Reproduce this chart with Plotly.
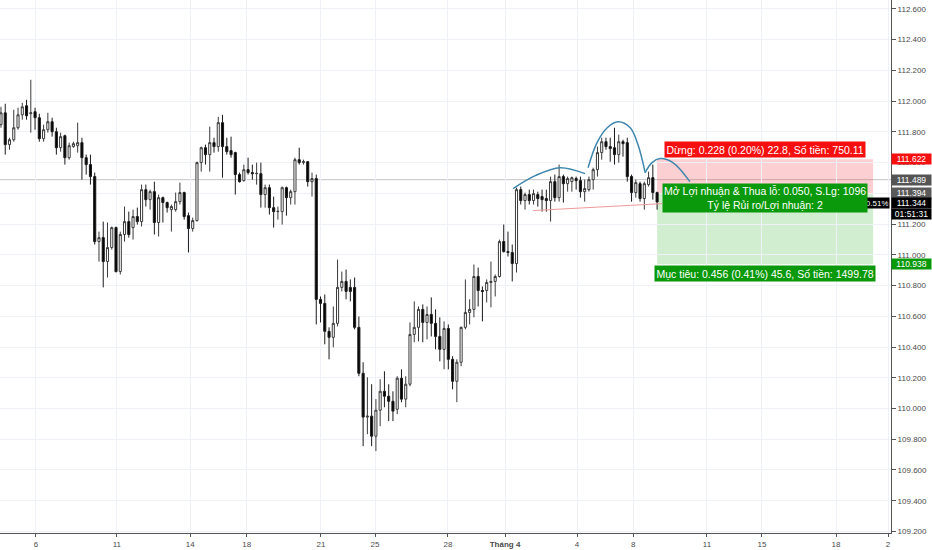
import plotly.graph_objects as go

# USDJPY 4h candles (index 0 = first visible candle)
opens = [111.847, 111.924, 111.717, 111.749, 111.827, 111.911, 111.970, 111.918, 111.931, 111.892,
         111.756, 111.814, 111.866, 111.801, 111.697, 111.775, 111.632, 111.704, 111.710, 111.730,
         111.632, 111.587, 111.509, 111.086, 111.112, 110.956, 111.047, 111.177, 110.891, 111.132,
         111.216, 111.177, 111.249, 111.216, 111.424, 111.359, 111.411, 111.210, 111.372, 111.340,
         111.294, 111.294, 111.346, 111.405, 111.255, 111.171, 111.223, 111.600, 111.697, 111.652,
         111.730, 111.704, 111.860, 111.704, 111.678, 111.665, 111.522, 111.483, 111.554, 111.535,
         111.528, 111.528, 111.392, 111.437, 111.307, 111.281, 111.281, 111.437, 111.372, 111.411,
         111.619, 111.600, 111.606, 111.476, 111.496, 110.710, 110.684, 110.502, 110.463, 110.554,
         110.788, 110.827, 110.788, 110.788, 110.528, 110.229, 109.944, 109.950, 109.820, 109.989,
         110.112, 110.080, 110.047, 109.995, 110.197, 110.061, 110.158, 110.482, 110.528, 110.645,
         110.560, 110.612, 110.554, 110.469, 110.385, 110.521, 110.320, 110.177, 110.301, 110.528,
         110.625, 110.645, 110.859, 110.768, 110.768, 110.820, 110.827, 110.859, 111.086, 111.021,
         111.015, 110.943, 111.424, 111.353, 111.392, 111.353, 111.392, 111.379, 111.366, 111.353,
         111.476, 111.372, 111.509, 111.463, 111.476, 111.496, 111.483, 111.411, 111.424, 111.489,
         111.554, 111.665, 111.736, 111.704, 111.697, 111.652, 111.736, 111.730, 111.509, 111.405,
         111.463, 111.366, 111.457, 111.502, 111.405]
highs = [111.963, 111.983, 111.762, 111.944, 111.957, 111.989, 112.009, 112.139, 111.957, 111.918,
         111.847, 111.924, 111.892, 111.827, 111.795, 111.782, 111.730, 111.736, 111.860, 111.762,
         111.652, 111.652, 111.535, 111.151, 111.216, 111.210, 111.184, 111.184, 111.151, 111.314,
         111.281, 111.294, 111.307, 111.457, 111.457, 111.424, 111.476, 111.392, 111.379, 111.346,
         111.327, 111.405, 111.470, 111.411, 111.275, 111.242, 111.606, 111.704, 111.717, 111.834,
         111.762, 111.898, 111.911, 111.762, 111.769, 111.671, 111.535, 111.587, 111.632, 111.587,
         111.600, 111.600, 111.457, 111.457, 111.379, 111.314, 111.444, 111.444, 111.424, 111.632,
         111.697, 111.619, 111.610, 111.535, 111.522, 110.729, 110.742, 110.528, 110.664, 110.969,
         110.891, 110.904, 110.840, 110.852, 110.599, 110.301, 110.203, 110.158, 110.061, 110.190,
         110.242, 110.158, 110.112, 110.210, 110.255, 110.210, 110.560, 110.697, 110.664, 110.677,
         110.664, 110.723, 110.645, 110.593, 110.567, 110.547, 110.340, 110.320, 110.534, 110.840,
         110.710, 110.937, 110.917, 110.794, 110.840, 110.956, 110.872, 111.099, 111.197, 111.151,
         111.067, 111.437, 111.444, 111.405, 111.424, 111.424, 111.411, 111.424, 111.424, 111.509,
         111.522, 111.587, 111.522, 111.509, 111.509, 111.509, 111.509, 111.489, 111.509, 111.567,
         111.704, 111.762, 111.762, 111.762, 111.827, 111.782, 111.749, 111.762, 111.522, 111.489,
         111.476, 111.476, 111.541, 111.587, 111.411]
lows = [111.827, 111.652, 111.684, 111.736, 111.814, 111.879, 111.879, 111.795, 111.814, 111.736,
        111.736, 111.795, 111.769, 111.652, 111.671, 111.587, 111.619, 111.697, 111.665, 111.489,
        111.522, 111.457, 111.067, 110.956, 110.788, 110.852, 111.034, 110.885, 110.872, 111.086,
        111.112, 111.099, 111.197, 111.184, 111.314, 111.294, 111.132, 111.119, 111.210, 111.275,
        111.151, 111.281, 111.327, 111.229, 111.015, 111.151, 111.216, 111.541, 111.587, 111.541,
        111.665, 111.671, 111.502, 111.652, 111.632, 111.392, 111.470, 111.476, 111.522, 111.489,
        111.457, 111.307, 111.307, 111.262, 111.177, 111.229, 111.197, 111.255, 111.327, 111.327,
        111.587, 111.587, 111.444, 111.379, 110.547, 110.560, 110.418, 110.320, 110.398, 110.534,
        110.762, 110.710, 110.697, 110.515, 110.210, 109.755, 109.833, 109.755, 109.723, 109.885,
        110.008, 109.918, 109.918, 109.963, 110.041, 110.008, 110.145, 110.431, 110.437, 110.431,
        110.450, 110.469, 110.385, 110.307, 110.255, 110.255, 110.125, 110.041, 110.275, 110.515,
        110.547, 110.593, 110.664, 110.567, 110.690, 110.658, 110.729, 110.852, 111.015, 110.989,
        110.827, 110.885, 111.327, 111.294, 111.327, 111.327, 111.314, 111.281, 111.281, 111.216,
        111.346, 111.346, 111.340, 111.411, 111.411, 111.424, 111.372, 111.346, 111.411, 111.424,
        111.509, 111.619, 111.684, 111.606, 111.587, 111.600, 111.639, 111.476, 111.346, 111.372,
        111.346, 111.294, 111.444, 111.359, 111.294]
closes = [111.924, 111.717, 111.749, 111.827, 111.911, 111.963, 111.905, 111.924, 111.892, 111.756,
          111.814, 111.866, 111.801, 111.697, 111.769, 111.632, 111.710, 111.723, 111.730, 111.632,
          111.587, 111.509, 111.086, 111.112, 110.956, 111.047, 111.177, 110.891, 111.132, 111.216,
          111.132, 111.249, 111.216, 111.424, 111.359, 111.411, 111.210, 111.372, 111.340, 111.307,
          111.314, 111.346, 111.405, 111.249, 111.171, 111.223, 111.600, 111.697, 111.652, 111.730,
          111.704, 111.860, 111.704, 111.671, 111.652, 111.522, 111.476, 111.554, 111.535, 111.528,
          111.530, 111.392, 111.437, 111.307, 111.281, 111.283, 111.437, 111.372, 111.411, 111.619,
          111.600, 111.606, 111.476, 111.496, 110.710, 110.684, 110.502, 110.463, 110.554, 110.788,
          110.827, 110.762, 110.762, 110.528, 110.229, 109.944, 109.950, 109.820, 109.989, 110.112,
          110.080, 110.047, 109.983, 110.197, 110.061, 110.158, 110.482, 110.528, 110.645, 110.560,
          110.612, 110.554, 110.469, 110.385, 110.521, 110.320, 110.177, 110.301, 110.528, 110.625,
          110.645, 110.859, 110.768, 110.762, 110.820, 110.827, 110.859, 111.086, 111.021, 111.015,
          110.943, 111.424, 111.353, 111.392, 111.353, 111.398, 111.366, 111.359, 111.353, 111.476,
          111.372, 111.509, 111.463, 111.496, 111.502, 111.483, 111.411, 111.431, 111.489, 111.554,
          111.665, 111.736, 111.704, 111.691, 111.652, 111.736, 111.723, 111.509, 111.405, 111.470,
          111.366, 111.463, 111.502, 111.405, 111.344]

# date ticks (position in candle index units)
tick_pos = [8.2, 27.2, 44.4, 57.7, 75.1, 87.8, 104.9, 118.3, 135.2, 148.4, 165.7, 178.6, 196.0, 208.2]
tick_txt = ["6", "11", "14", "18", "21", "25", "28", "<b>Tháng 4</b>", "4", "8", "11", "15", "18", "2"]

# head & shoulders drawing
ls_x = [120.2, 125.4, 131.2, 137.1]
ls_y = [111.431, 111.515, 111.567, 111.528]
head_x = [137.8, 139.9, 142.3, 144.8, 147.7, 149.5, 151.2]
head_y = [111.567, 111.730, 111.827, 111.866, 111.827, 111.717, 111.535]
rs_x = [151.2, 152.8, 154.7, 157.7, 161.7]
rs_y = [111.535, 111.600, 111.626, 111.600, 111.476]
neck_x = [124.9, 155.2]
neck_y = [111.288, 111.333]

# short position tool
entry = 111.394
stop = 111.622
target = 110.938
last_price = 111.344
prev_line = 111.489
pos_x0, pos_x1 = 154.0, 204.7

FONT = "Liberation Sans, Arial, sans-serif"
ARC = "#3f86ad"

fig = go.Figure()

fig.add_trace(go.Candlestick(
    x=list(range(len(closes))), open=opens, high=highs, low=lows, close=closes,
    increasing=dict(line=dict(color="#3a3a3a", width=1), fillcolor="#ffffff"),
    decreasing=dict(line=dict(color="#1a1a1a", width=1), fillcolor="#000000"),
    whiskerwidth=0, hoverinfo="skip", showlegend=False,
))

for xs, ys in [(ls_x, ls_y), (head_x, head_y), (rs_x, rs_y)]:
    fig.add_trace(go.Scatter(x=xs, y=ys, mode="lines", line=dict(color=ARC, width=1.5, shape="spline"),
                             hoverinfo="skip", showlegend=False))
fig.add_trace(go.Scatter(x=neck_x, y=neck_y, mode="lines", line=dict(color="#ef9a9a", width=1),
                         hoverinfo="skip", showlegend=False))

# boxes
fig.add_shape(type="rect", x0=pos_x0, x1=pos_x1, y0=entry, y1=stop, line_width=0,
              fillcolor="rgba(242,54,69,0.24)", layer="below")
fig.add_shape(type="rect", x0=pos_x0, x1=pos_x1, y0=target, y1=entry, line_width=0,
              fillcolor="rgba(0,160,0,0.18)", layer="below")
fig.add_shape(type="line", xref="paper", x0=0, x1=1, y0=prev_line, y1=prev_line,
              line=dict(color="#c4c4c4", width=1), layer="below")

mid_x = (pos_x0 + pos_x1) / 2
RED = "#f50f0f"
GREEN = "#0a990a"

# -0.51% change tag (partly covered by the position label)
fig.add_annotation(xref="paper", x=1, xanchor="right", y=last_price, yshift=-1, text="-0.51%", showarrow=False,
                   width=30, height=9, align="right", font=dict(family=FONT, size=8, color="white"),
                   bgcolor="#000000", borderpad=0.5, xshift=-1)

fig.add_annotation(x=mid_x, y=stop, yanchor="bottom", yshift=1, showarrow=False,
                   text="Dừng: 0.228 (0.20%) 22.8, Số tiền: 750.11",
                   font=dict(family=FONT, size=10.5, color="white"), bgcolor=RED, borderpad=1.5)
fig.add_annotation(x=mid_x, y=111.369, showarrow=False,
                   text="Mở Lợi nhuận & Thua lỗ: 0.050, S.Lg: 1096<br>Tỷ lệ Rủi ro/Lợi nhuận: 2",
                   font=dict(family=FONT, size=10.5, color="white"), bgcolor=GREEN, borderpad=1)
fig.add_annotation(x=mid_x, y=target, yanchor="top", yshift=-1, showarrow=False,
                   text="Mục tiêu: 0.456 (0.41%) 45.6, Số tiền: 1499.78",
                   font=dict(family=FONT, size=10.5, color="white"), bgcolor=GREEN, borderpad=1.5)

# price tags on the right axis
tags = [(stop, f"{stop:.3f}", RED, 0), (prev_line, f"{prev_line:.3f}", "#555555", 0),
        (entry, f"{entry:.3f}", "#5a5a5a", 1.5), (last_price, f"{last_price:.3f}", "#000000", -1),
        (last_price, "01:51:31", "#000000", -12), (target, f"{target:.3f}", GREEN, 0)]
for yv, txt, col, shift in tags:
    fig.add_annotation(xref="paper", x=1, xanchor="left", y=yv, yshift=shift, text=txt, showarrow=False,
                       width=38, height=9, align="center", font=dict(family=FONT, size=8.5, color="white"),
                       bgcolor=col, borderpad=0.5, xshift=0)

fig.update_layout(
    width=932, height=550, margin=dict(l=0, r=41, t=0, b=17),
    paper_bgcolor="white", plot_bgcolor="white",
    font=dict(family=FONT, size=8, color="#4a4a4a"),
    xaxis=dict(range=[-0.23, 208.9], tickvals=tick_pos, ticktext=tick_txt, showgrid=True,
               gridcolor="#eef2f6", zeroline=False, showline=True, linecolor="#555555", linewidth=1,
               ticks="outside", ticklen=3, tickcolor="#555555", rangeslider=dict(visible=False),
               tickfont=dict(size=8, color="#4a4a4a"), fixedrange=True),
    yaxis=dict(side="right", range=[109.19, 112.658], dtick=0.2, tick0=109.2, tickformat=".3f",
               showgrid=True, gridcolor="#eef2f6", zeroline=False, showline=True, linecolor="#555555",
               linewidth=1, ticks="outside", ticklen=4, tickcolor="#555555",
               tickfont=dict(size=8, color="#4a4a4a"), fixedrange=True),
    showlegend=False,
)

fig.write_html("out.html", config={"displayModeBar": False},
               post_script="document.body.style.margin='0';")
